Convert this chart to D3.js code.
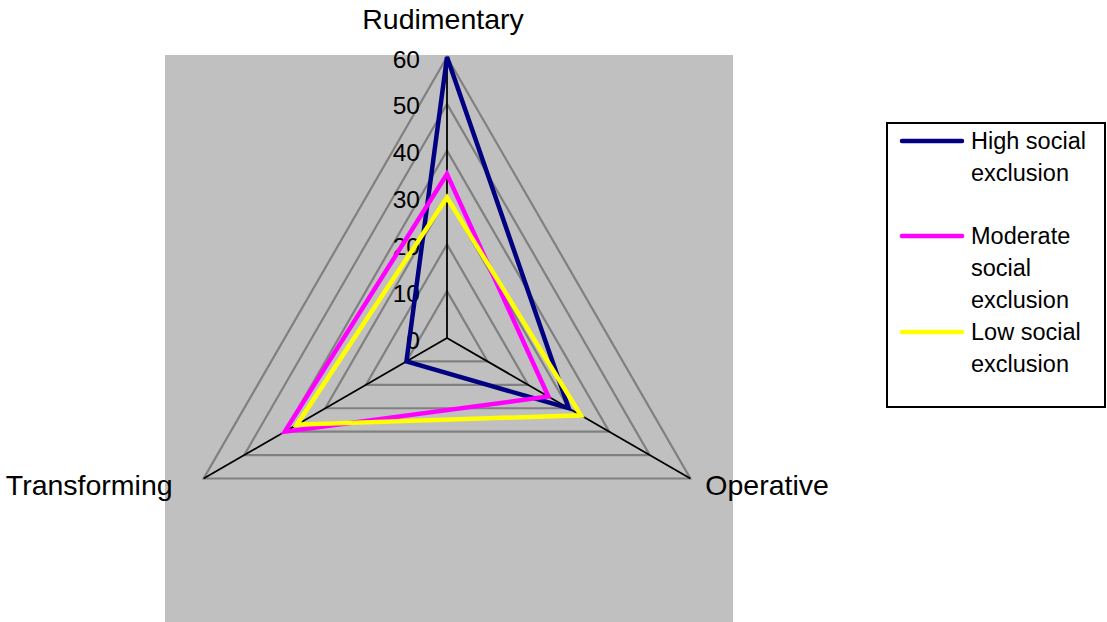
<!DOCTYPE html>
<html>
<head>
<meta charset="utf-8">
<script src="https://cdn.jsdelivr.net/npm/d3@7/dist/d3.min.js"></script>
<style>
  html, body { margin: 0; padding: 0; background: #fff; }
  svg { display: block; font-family: "Liberation Sans", Arial, sans-serif; }
</style>
</head>
<body>
<svg id="chart" width="1107" height="622"></svg>
<script>
const categories = ["Rudimentary", "Operative", "Transforming"];
const seriesNames = ["High social exclusion", "Moderate social exclusion", "Low social exclusion"];
const highValues = [60, 30, 10];
const moderateValues = [35, 25, 40];
const lowValues = [30, 33, 37];
const tickValues = [0, 10, 20, 30, 40, 50, 60];
const seriesColors = ["#000080", "#FF00FF", "#FFFF00"];
const legendLines = [["High social", "exclusion"], ["Moderate", "social", "exclusion"], ["Low social", "exclusion"]];

const series = [highValues, moderateValues, lowValues];

const svg = d3.select("#chart");
const cx = 447, cy = 338;
const r = d3.scaleLinear().domain([0, 60]).range([0, 281]);
const angle = d3.scaleOrdinal().domain(categories).range([0, 2 * Math.PI / 3, 4 * Math.PI / 3]);

function pt(cat, v) {
  const a = angle(cat);
  return [cx + r(v) * Math.sin(a), cy - r(v) * Math.cos(a)];
}

// plot area
svg.append("rect").attr("x", 165).attr("y", 55).attr("width", 568).attr("height", 567).attr("fill", "#C0C0C0");

const g = svg.append("g");

// grid triangles
tickValues.filter(t => t > 0).forEach(t => {
  g.append("polygon")
    .attr("points", categories.map(c => pt(c, t).join(",")).join(" "))
    .attr("fill", "none").attr("stroke", "#808080").attr("stroke-width", 2.2);
});

// axes
categories.forEach(c => {
  const [x, y] = pt(c, 60);
  g.append("line").attr("x1", cx).attr("y1", cy).attr("x2", x).attr("y2", y)
    .attr("stroke", "#000").attr("stroke-width", 1.8);
});

// tick labels
g.selectAll("text.tick").data(tickValues).enter().append("text")
  .attr("class", "tick")
  .attr("x", 420)
  .attr("y", d => cy - r(d) + 2)
  .attr("dy", "0.35em")
  .attr("text-anchor", "end")
  .attr("font-size", 24.5)
  .attr("fill", "#000")
  .text(d => d);

// series
const line = d3.line().curve(d3.curveLinearClosed);
series.forEach((vals, i) => {
  g.append("path")
    .attr("d", line(categories.map((c, j) => pt(c, vals[j]))))
    .attr("fill", "none")
    .attr("stroke", seriesColors[i])
    .attr("stroke-width", 4.5)
    .attr("stroke-linejoin", "miter");
});

// category labels
const labelFont = 28.5;
const [rx, ry] = pt("Rudimentary", 60);
svg.append("text").attr("x", rx - 4).attr("y", 29).attr("text-anchor", "middle")
  .attr("font-size", labelFont).text(categories[0]);
const [ox, oy] = pt("Operative", 60);
svg.append("text").attr("x", ox + 15).attr("y", oy + 16).attr("text-anchor", "start")
  .attr("font-size", labelFont).text(categories[1]);
const [tx, ty] = pt("Transforming", 60);
svg.append("text").attr("x", tx - 31).attr("y", ty + 16).attr("text-anchor", "end")
  .attr("font-size", labelFont).text(categories[2]);

// legend
const leg = svg.append("g");
leg.append("rect").attr("x", 887).attr("y", 123).attr("width", 218).attr("height", 284)
  .attr("fill", "#fff").attr("stroke", "#000").attr("stroke-width", 2);
const legendY = [141, 236, 332];
const lineGap = 32;
seriesNames.forEach((name, i) => {
  leg.append("line").attr("x1", 902).attr("x2", 962).attr("y1", legendY[i]).attr("y2", legendY[i])
    .attr("stroke", seriesColors[i]).attr("stroke-width", 4.5).attr("stroke-linecap", "round");
  legendLines[i].forEach((t, k) => {
    leg.append("text").attr("x", 971).attr("y", legendY[i] + k * lineGap).attr("dy", "0.35em")
      .attr("font-size", 23.5).attr("fill", "#000").text(t);
  });
});
</script>
</body>
</html>
